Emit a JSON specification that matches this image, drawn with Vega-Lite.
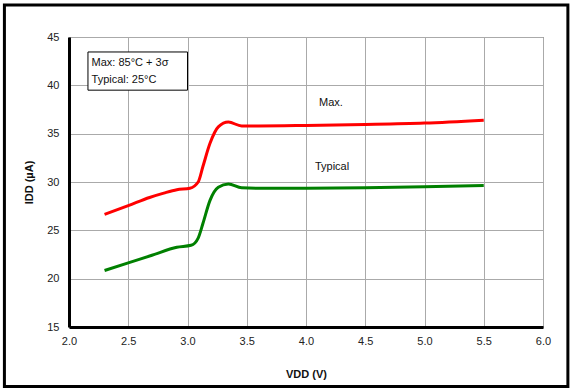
{
  "$schema": "https://vega.github.io/schema/vega-lite/v6.json",
  "autosize": "none",
  "width": 474,
  "height": 290,
  "padding": {"left": 69, "top": 37, "right": 30, "bottom": 62},
  "background": "white",
  "config": {
    "font": "Liberation Sans",
    "view": {"stroke": "#555", "strokeWidth": 1},
    "axis": {
      "grid": true, "gridColor": "#aaa", "gridOpacity": 1, "gridWidth": 1,
      "domainColor": "black", "domainWidth": 2.5, "labelFlush": false,
      "ticks": false, "labelFontSize": 11, "labelColor": "#222",
      "titleFontSize": 11, "titleFontWeight": "bold", "titleColor": "#111"
    }
  },
  "datasets": {
    "curves": [
      {"series": "Max.", "v": 2.3, "i": 26.65},
      {"series": "Max.", "v": 2.5, "i": 27.55},
      {"series": "Max.", "v": 2.68, "i": 28.4},
      {"series": "Max.", "v": 2.8, "i": 28.85},
      {"series": "Max.", "v": 2.91, "i": 29.2},
      {"series": "Max.", "v": 3.02, "i": 29.35},
      {"series": "Max.", "v": 3.09, "i": 30.0},
      {"series": "Max.", "v": 3.13, "i": 31.6},
      {"series": "Max.", "v": 3.19, "i": 34.0},
      {"series": "Max.", "v": 3.26, "i": 35.7},
      {"series": "Max.", "v": 3.345, "i": 36.2},
      {"series": "Max.", "v": 3.457, "i": 35.8},
      {"series": "Max.", "v": 3.6, "i": 35.8},
      {"series": "Max.", "v": 4.0, "i": 35.85},
      {"series": "Max.", "v": 4.5, "i": 35.95},
      {"series": "Max.", "v": 5.0, "i": 36.1},
      {"series": "Max.", "v": 5.5, "i": 36.4},
      {"series": "Typical", "v": 2.3, "i": 20.85},
      {"series": "Typical", "v": 2.5, "i": 21.64},
      {"series": "Typical", "v": 2.7, "i": 22.42},
      {"series": "Typical", "v": 2.91, "i": 23.25},
      {"series": "Typical", "v": 3.03, "i": 23.45},
      {"series": "Typical", "v": 3.09, "i": 24.2},
      {"series": "Typical", "v": 3.13, "i": 25.7},
      {"series": "Typical", "v": 3.19, "i": 28.1},
      {"series": "Typical", "v": 3.26, "i": 29.45},
      {"series": "Typical", "v": 3.345, "i": 29.8},
      {"series": "Typical", "v": 3.457, "i": 29.4},
      {"series": "Typical", "v": 3.6, "i": 29.35},
      {"series": "Typical", "v": 4.0, "i": 29.35},
      {"series": "Typical", "v": 4.5, "i": 29.4},
      {"series": "Typical", "v": 5.0, "i": 29.5},
      {"series": "Typical", "v": 5.5, "i": 29.65}
    ],
    "labels": [
      {"label": "Max.", "v": 4.21, "i": 38.2},
      {"label": "Typical", "v": 4.22, "i": 31.6}
    ],
    "note": [
      {"line": "Max: 85°C + 3σ", "v": 2.19, "i": 42.3},
      {"line": "Typical: 25°C", "v": 2.19, "i": 40.55}
    ]
  },
  "layer": [
    {
      "data": {"name": "curves"},
      "mark": {"type": "line", "interpolate": "monotone", "strokeWidth": 3},
      "encoding": {
        "x": {
          "field": "v", "type": "quantitative",
          "scale": {"domain": [2, 6], "nice": false},
          "axis": {"grid": true, "values": [2, 2.5, 3, 3.5, 4, 4.5, 5, 5.5, 6], "format": ".1f", "title": "VDD (V)", "labelPadding": 8, "titlePadding": 22, "domainWidth": 3}
        },
        "y": {
          "field": "i", "type": "quantitative",
          "scale": {"domain": [15, 45], "nice": false, "zero": false},
          "axis": {"grid": true, "values": [15, 20, 25, 30, 35, 40, 45], "title": "IDD (µA)", "labelPadding": 10, "titlePadding": 12, "domainWidth": 3}
        },
        "color": {
          "field": "series", "type": "nominal",
          "scale": {"domain": ["Max.", "Typical"], "range": ["#ff0000", "#008000"]},
          "legend": null
        }
      }
    },
    {
      "data": {"values": [{}]},
      "mark": {"type": "rect", "fill": "white", "fillOpacity": 0, "stroke": "black", "strokeWidth": 3, "clip": false},
      "encoding": {
        "x": {"datum": 1.455, "type": "quantitative"},
        "x2": {"datum": 6.21},
        "y": {"datum": 48.3, "type": "quantitative"},
        "y2": {"datum": 8.85}
      }
    },
    {
      "data": {"values": [{}]},
      "mark": {"type": "rect", "fill": "white", "stroke": "black", "strokeWidth": 1},
      "encoding": {
        "x": {"datum": 2.16, "type": "quantitative"},
        "x2": {"datum": 3.0},
        "y": {"datum": 43.45, "type": "quantitative"},
        "y2": {"datum": 39.5}
      }
    },
    {
      "data": {"name": "labels"},
      "mark": {"type": "text", "fontSize": 11, "align": "center", "color": "#111"},
      "encoding": {
        "x": {"field": "v", "type": "quantitative"},
        "y": {"field": "i", "type": "quantitative"},
        "text": {"field": "label"}
      }
    },
    {
      "data": {"name": "note"},
      "mark": {"type": "text", "fontSize": 11, "align": "left", "color": "#111"},
      "encoding": {
        "x": {"field": "v", "type": "quantitative"},
        "y": {"field": "i", "type": "quantitative"},
        "text": {"field": "line"}
      }
    }
  ]
}
